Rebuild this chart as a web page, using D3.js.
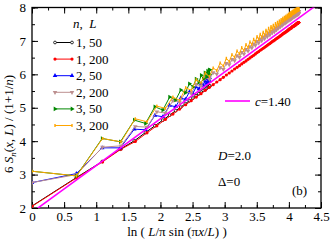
<!DOCTYPE html>
<meta charset="utf-8">
<style>
  body { margin: 0; background: #fff; }
  svg { display: block; font-family: "Liberation Serif", "DejaVu Serif", serif; }
  .frame { fill: none; stroke: #000; stroke-width: 1.3; }
  .tick line { stroke: #000; stroke-width: 1; }
  .tick text { font-family: "Liberation Serif", serif; font-size: 13px; fill: #000; }
  .domain { display: none; }
</style>
<script src="https://d3js.org/d3.v7.min.js"></script>
<div id="chart"></div>
<script>

// chain lengths and site index lists (x = 1 .. L/2)
var L_small = 50, L_big = 200;
var sites50 = d3.range(1, 26);
var sites200 = d3.range(1, 101);

// 6 S_n / (1+1/n)
var n1L50 = [2.06,2.91,3.39,3.76,4.01,4.26,4.46,4.63,4.78,4.91,5.02,5.12,5.21,5.29,5.36,5.42,5.47,5.52,5.55,5.58,5.61,5.63,5.64,5.65,5.65];
var n1L200 = [2.05,2.90,3.38,3.76,3.99,4.25,4.46,4.65,4.81,4.96, 5.09,5.21,5.32,5.42,5.52,5.61,5.69,5.77,5.84,5.91,
  5.98,6.04,6.10,6.16,6.21,6.26,6.31,6.36,6.40,6.45, 6.49,6.53,6.57,6.61,6.65,6.68,6.72,6.75,6.78,6.81,
  6.84,6.87,6.90,6.92,6.95,6.98,7.00,7.02,7.05,7.07, 7.09,7.11,7.13,7.15,7.17,7.19,7.21,7.23,7.24,7.26,
  7.27,7.29,7.30,7.32,7.33,7.35,7.36,7.37,7.38,7.39, 7.41,7.42,7.43,7.44,7.44,7.45,7.46,7.47,7.48,7.48,
  7.49,7.50,7.51,7.51,7.52,7.52,7.53,7.53,7.53,7.54, 7.54,7.54,7.55,7.55,7.55,7.55,7.55,7.55,7.55,7.55];
var n2L50 = [2.76,3.03,3.80,3.80,4.36,4.34,4.77,4.73,5.07,5.03,5.29,5.25,5.47,5.43,5.62,5.56,5.72,5.67,5.80,5.73,5.86,5.78,5.89,5.80,5.90];
var n2L200 = [2.76,3.00,3.82,3.86,4.44,4.42,4.88,4.84,5.21,5.17, 5.48,5.43,5.70,5.65,5.89,5.85,6.05,6.01,6.20,6.15,
  6.33,6.29,6.45,6.41,6.56,6.51,6.66,6.61,6.75,6.70, 6.83,6.79,6.91,6.87,6.99,6.94,7.06,7.01,7.12,7.07,
  7.18,7.13,7.24,7.18,7.29,7.24,7.34,7.28,7.39,7.33, 7.42,7.38,7.46,7.42,7.50,7.46,7.54,7.50,7.57,7.53,
  7.60,7.56,7.63,7.59,7.66,7.62,7.69,7.64,7.71,7.66, 7.74,7.69,7.76,7.71,7.77,7.72,7.79,7.74,7.81,7.75,
  7.82,7.77,7.84,7.78,7.85,7.79,7.86,7.80,7.86,7.81, 7.87,7.81,7.88,7.82,7.88,7.82,7.88,7.82,7.88,7.82];
var n3L50 = [3.10,2.96,4.08,3.98,4.63,4.53,5.03,4.93,5.32,5.23,5.53,5.45,5.72,5.62,5.86,5.76,5.97,5.86,6.05,5.92,6.10,5.98,6.13,6.00,6.14];
var n3L200 = [3.10,2.96,4.08,3.98,4.67,4.58,5.05,4.98,5.32,5.22, 5.60,5.52,5.84,5.74,6.04,5.93,6.19,6.11,6.34,6.25,
  6.48,6.38,6.59,6.51,6.70,6.61,6.80,6.71,6.89,6.80, 6.97,6.89,7.05,6.97,7.13,7.04,7.20,7.11,7.26,7.17,
  7.32,7.23,7.38,7.28,7.43,7.35,7.47,7.39,7.52,7.44, 7.56,7.48,7.60,7.52,7.64,7.56,7.68,7.60,7.71,7.63,
  7.74,7.66,7.77,7.69,7.80,7.72,7.83,7.74,7.85,7.76, 7.87,7.80,7.89,7.82,7.90,7.83,7.92,7.85,7.94,7.86,
  7.95,7.88,7.97,7.89,7.98,7.90,7.99,7.91,7.99,7.92, 8.00,7.92,8.01,7.93,8.01,7.93,8.01,7.93,8.01,7.93];

// CFT fit line
var fitC = 1.40, fitIntercept = 1.87;

var seriesLabels = ["1, 50", "1, 200", "2, 50", "2, 200", "3, 50", "3, 200"];
var seriesColors = ["#000000", "#ff0000", "#0000ff", "#bc8f8f", "#008800", "#ffa500"];

var xTicks = [0, 0.5, 1, 1.5, 2, 2.5, 3, 3.5, 4, 4.5];
var yTicks = [2, 3, 4, 5, 6, 7, 8];

// chord coordinate ln(L/pi sin(pi x/L))
function chord(x, L) { return Math.log(L / Math.PI * Math.sin(Math.PI * x / L)); }

var series = [
  {sites: sites50, L: L_small, vals: n1L50, mark: "circleOpen"},
  {sites: sites200, L: L_big, vals: n1L200, mark: "circle"},
  {sites: sites50, L: L_small, vals: n2L50, mark: "triUp"},
  {sites: sites200, L: L_big, vals: n2L200, mark: "triDown"},
  {sites: sites50, L: L_small, vals: n3L50, mark: "triRight"},
  {sites: sites200, L: L_big, vals: n3L200, mark: "bar"}
];

var W = 332, H = 241;
var pL = 32, pR = 321, pT = 7.5, pB = 208;

var svg = d3.select("#chart").append("svg")
  .attr("width", W).attr("height", H);

var x = d3.scaleLinear().domain([0, 4.5]).range([pL, pR]);
var y = d3.scaleLinear().domain([2, 8]).range([pB, pT]);

svg.append("clipPath").attr("id", "plotclip")
  .append("rect").attr("x", pL).attr("y", pT)
  .attr("width", pR - pL).attr("height", pB - pT);

// axes: major + minor, ticks pointing inward on all four sides
var minorX = d3.range(0, 4.51, 0.25), minorY = d3.range(2, 8.01, 0.5);

svg.append("g").attr("transform", "translate(0," + pB + ")")
  .call(d3.axisBottom(x).tickValues(minorX).tickSize(-3).tickFormat(""));
svg.append("g").attr("transform", "translate(0," + pB + ")")
  .call(d3.axisBottom(x).tickValues(xTicks).tickSize(-6).tickPadding(4).tickFormat(d3.format("")));
svg.append("g").attr("transform", "translate(0," + pT + ")")
  .call(d3.axisTop(x).tickValues(minorX).tickSize(-3).tickFormat(""));
svg.append("g").attr("transform", "translate(0," + pT + ")")
  .call(d3.axisTop(x).tickValues(xTicks).tickSize(-6).tickFormat(""));

svg.append("g").attr("transform", "translate(" + pL + ",0)")
  .call(d3.axisLeft(y).tickValues(minorY).tickSize(-3).tickFormat(""));
svg.append("g").attr("transform", "translate(" + pL + ",0)")
  .call(d3.axisLeft(y).tickValues(yTicks).tickSize(-6).tickPadding(6).tickFormat(d3.format("d")));
svg.append("g").attr("transform", "translate(" + pR + ",0)")
  .call(d3.axisRight(y).tickValues(minorY).tickSize(-3).tickFormat(""));
svg.append("g").attr("transform", "translate(" + pR + ",0)")
  .call(d3.axisRight(y).tickValues(yTicks).tickSize(-6).tickFormat(""));

svg.append("rect").attr("class", "frame")
  .attr("x", pL).attr("y", pT).attr("width", pR - pL).attr("height", pB - pT);

// markers
function drawMark(g, kind, color, cx, cy) {
  if (kind === "circleOpen") {
    g.append("circle").attr("cx", cx).attr("cy", cy).attr("r", 1.4)
      .attr("fill", "#fff").attr("stroke", color).attr("stroke-width", 0.8);
  } else if (kind === "circle") {
    g.append("circle").attr("cx", cx).attr("cy", cy).attr("r", 1.6).attr("fill", color);
  } else if (kind === "bar") {
    g.append("rect").attr("x", cx - 0.7).attr("y", cy - 1.5).attr("width", 1.4).attr("height", 3).attr("fill", color);
  } else {
    var rot = kind === "triUp" ? 0 : kind === "triDown" ? 180 : 90;
    g.append("path").attr("d", d3.symbol(d3.symbolTriangle, 9)())
      .attr("transform", "translate(" + cx + "," + cy + ") rotate(" + rot + ")")
      .attr("fill", color);
  }
}

var plot = svg.append("g").attr("clip-path", "url(#plotclip)");
var line = d3.line().x(function(d) { return x(d[0]); }).y(function(d) { return y(d[1]); });

series.forEach(function(s, i) {
  var pts = s.sites.map(function(site, k) { return [chord(site, s.L), s.vals[k]]; });
  var g = plot.append("g");
  g.append("path").attr("d", line(pts)).attr("fill", "none")
    .attr("stroke", seriesColors[i]).attr("stroke-width", 1);
  pts.forEach(function(p) { drawMark(g, s.mark, seriesColors[i], x(p[0]), y(p[1])); });
});

// fit line
var fitX = [0, 4.5];
plot.append("path")
  .attr("d", line(fitX.map(function(v) { return [v, fitIntercept + fitC * v]; })))
  .attr("stroke", "#ff00ff").attr("stroke-width", 1.6).attr("fill", "none");

// legend
var leg = svg.append("g").attr("font-size", 13).attr("fill", "#000");
var t = leg.append("text").attr("x", 73).attr("y", 28);
t.append("tspan").attr("font-style", "italic").text("n");
t.append("tspan").text(",\u00a0\u00a0");
t.append("tspan").attr("font-style", "italic").text("L");

seriesLabels.forEach(function(lab, i) {
  var yy = 42.5 + i * 16.6;
  leg.append("line").attr("x1", 55).attr("x2", 72).attr("y1", yy).attr("y2", yy)
    .attr("stroke", seriesColors[i]).attr("stroke-width", 1);
  drawMark(leg, series[i].mark, seriesColors[i], 55, yy);
  drawMark(leg, series[i].mark, seriesColors[i], 72, yy);
  leg.append("text").attr("x", 76).attr("y", yy + 4.5).text(lab);
});

leg.append("line").attr("x1", 225).attr("x2", 250).attr("y1", 101).attr("y2", 101)
  .attr("stroke", "#ff00ff").attr("stroke-width", 1.6);
var ct = leg.append("text").attr("x", 255).attr("y", 105.5);
ct.append("tspan").attr("font-style", "italic").text("c");
ct.append("tspan").text("=" + fitC.toFixed(2));

var dt = leg.append("text").attr("x", 218).attr("y", 159.5);
dt.append("tspan").attr("font-style", "italic").text("D");
dt.append("tspan").text("=2.0");
leg.append("text").attr("x", 218).attr("y", 186).text("\u0394=0");
leg.append("text").attr("x", 292).attr("y", 195).text("(b)");

// axis titles
var xt = svg.append("text").attr("x", 177).attr("y", 236).attr("text-anchor", "middle").attr("font-size", 13);
xt.append("tspan").text("ln ( ");
xt.append("tspan").attr("font-style", "italic").text("L");
xt.append("tspan").text("/\u03c0 sin (\u03c0");
xt.append("tspan").attr("font-style", "italic").text("x");
xt.append("tspan").text("/");
xt.append("tspan").attr("font-style", "italic").text("L");
xt.append("tspan").text(") )");

var yt = svg.append("text").attr("transform", "translate(13,124) rotate(-90)")
  .attr("text-anchor", "middle").attr("font-size", 13);
yt.append("tspan").text("6 ");
yt.append("tspan").attr("font-style", "italic").text("S");
yt.append("tspan").attr("font-style", "italic").attr("font-size", 9).attr("dy", 3).text("n");
yt.append("tspan").attr("dy", -3).text("(");
yt.append("tspan").attr("font-style", "italic").text("x");
yt.append("tspan").text(", ");
yt.append("tspan").attr("font-style", "italic").text("L");
yt.append("tspan").text(") / (1+1/");
yt.append("tspan").attr("font-style", "italic").text("n");
yt.append("tspan").text(")");

</script>
